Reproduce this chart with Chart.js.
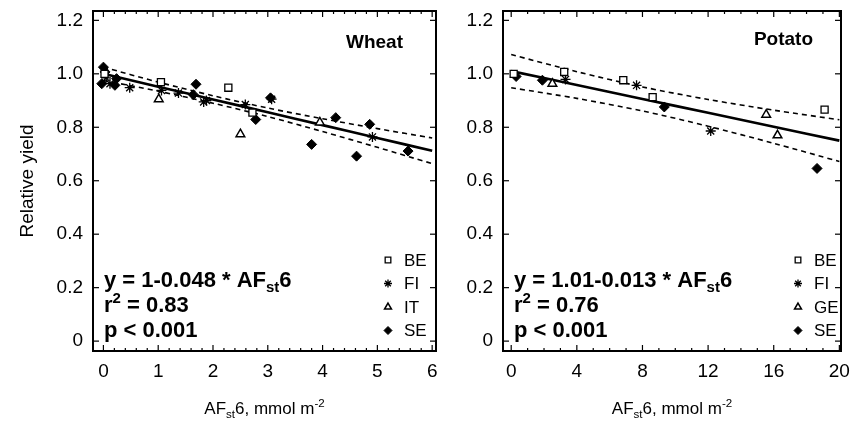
<!DOCTYPE html>
<html>
<head>
<meta charset="utf-8">
<script src="https://cdn.jsdelivr.net/npm/chart.js@4.4.0/dist/chart.umd.min.js"></script>
<style>
  html, body { margin: 0; padding: 0; background: #fff; }
  #wrap { position: relative; width: 850px; height: 421px; overflow: hidden; }
  #wheat { position: absolute; left: 0; top: 0; }
  #potato { position: absolute; left: 430px; top: 0; }
</style>
</head>
<body>
<div id="wrap">
  <canvas id="wheat" width="450" height="421"></canvas>
  <canvas id="potato" width="420" height="421"></canvas>
</div>
<script>
// ---- Wheat data (AFst6, relative yield) ----
const wheatBEx = [0.02, 1.05, 2.28, 2.72];
const wheatBEy = [1.0, 0.969, 0.948, 0.855];
const wheatFIx = [0.05, 0.12, 0.48, 1.06, 1.37, 1.83, 1.88, 2.59, 3.07, 4.91];
const wheatFIy = [0.985, 0.963, 0.948, 0.938, 0.928, 0.895, 0.9, 0.885, 0.905, 0.764];
const wheatITx = [1.01, 2.5, 3.95];
const wheatITy = [0.905, 0.774, 0.818];
const wheatSEx = [0.0, 0.03, -0.03, 0.24, 0.21, 1.69, 1.64, 2.78, 3.05, 3.8, 4.24, 4.86, 4.62, 5.56];
const wheatSEy = [1.025, 1.007, 0.963, 0.982, 0.957, 0.961, 0.922, 0.829, 0.91, 0.736, 0.836, 0.811, 0.692, 0.711];
// fitted line and 95% band
const wheatFitX = [0, 1, 2, 3, 4, 5, 6];
const wheatFit = [1.0, 0.952, 0.904, 0.856, 0.808, 0.76, 0.712];
const wheatUpper = [1.025, 0.969, 0.918, 0.872, 0.832, 0.795, 0.76];
const wheatLower = [0.975, 0.935, 0.89, 0.84, 0.784, 0.725, 0.664];

// ---- Potato data ----
const potatoBEx = [0.15, 3.23, 6.83, 8.62, 19.1];
const potatoBEy = [1.0, 1.007, 0.976, 0.913, 0.866];
const potatoFIx = [3.31, 7.64, 12.16];
const potatoFIy = [0.979, 0.957, 0.786];
const potatoGEx = [2.51, 15.54, 16.23];
const potatoGEy = [0.963, 0.847, 0.77];
const potatoSEx = [0.3, 1.9, 9.33, 18.64];
const potatoSEy = [0.99, 0.976, 0.876, 0.646];
const potatoFitX = [0, 4, 8, 12, 16, 20];
const potatoFit = [1.01, 0.958, 0.906, 0.854, 0.802, 0.75];
const potatoUpper = [1.072, 1.008, 0.951, 0.904, 0.864, 0.828];
const potatoLower = [0.948, 0.908, 0.861, 0.804, 0.74, 0.672];

// ---- axis ticks ----
const yTicks = [0, 0.2, 0.4, 0.6, 0.8, 1.0, 1.2];
const wheatXTicks = [0, 1, 2, 3, 4, 5, 6];
const potatoXTicks = [0, 4, 8, 12, 16, 20];

const FONT = '"Liberation Sans", Arial, Helvetica, sans-serif';

const styles = {
  BE: { pointStyle: "rect", radius: 5, bg: "#fff", bw: 1.3 },
  FI: { pointStyle: "star", radius: 5, bg: "#000", bw: 1.3 },
  IT: { pointStyle: "triangle", radius: 5, bg: "#fff", bw: 1.5 },
  GE: { pointStyle: "triangle", radius: 5, bg: "#fff", bw: 1.5 },
  SE: { pointStyle: "rectRot", radius: 5, bg: "#000", bw: 1 },
};

function pts(xs, ys) {
  return xs.map((x, i) => ({ x: x, y: ys[i] }));
}

function scatterSet(label, xs, ys) {
  const s = styles[label];
  return {
    type: "scatter",
    label: label,
    data: pts(xs, ys),
    pointStyle: s.pointStyle,
    pointRadius: s.radius,
    pointBackgroundColor: s.bg,
    pointBorderColor: "#000",
    pointBorderWidth: s.bw,
    order: 0,
  };
}

function lineSet(xs, ys, dashed) {
  return {
    type: "line",
    label: "",
    data: pts(xs, ys),
    borderColor: "#000",
    borderWidth: dashed ? 1.6 : 2.6,
    borderDash: dashed ? [5, 4] : [],
    pointRadius: 0,
    tension: 0.3,
    fill: false,
    order: 1,
  };
}

// draw text with sub/superscripts
function richText(ctx, parts, x, y, size, weight, align) {
  const font = (s) => `${weight} ${s}px ${FONT}`;
  let w = 0;
  parts.forEach((p) => {
    ctx.font = font(p.s ? size * 0.68 : size);
    w += ctx.measureText(p.t).width;
  });
  let cx = align === "center" ? x - w / 2 : align === "right" ? x - w : x;
  parts.forEach((p) => {
    ctx.font = font(p.s ? size * 0.68 : size);
    const dy = p.s === "sub" ? size * 0.22 : p.s === "sup" ? -size * 0.4 : 0;
    ctx.fillText(p.t, cx, y + dy);
    cx += ctx.measureText(p.t).width;
  });
}

// frame, inward ticks, labels and legend
const panelPlugin = {
  id: "panel",
  afterDraw(chart, args, o) {
    const { ctx, chartArea: a } = chart;
    const x = chart.scales.x, y = chart.scales.y;
    ctx.save();
    ctx.strokeStyle = "#000";
    ctx.fillStyle = "#000";
    ctx.lineWidth = 1.2;
    const tick = (x0, y0, dx, dy) => {
      ctx.beginPath();
      ctx.moveTo(x0, y0);
      ctx.lineTo(x0 + dx, y0 + dy);
      ctx.stroke();
    };
    for (let v = 0; v <= o.xMax + 1e-9; v += o.xMinor) {
      const px = x.getPixelForValue(v);
      const major = Math.abs(v / o.xMajor - Math.round(v / o.xMajor)) < 1e-6;
      const len = major ? 6 : 3;
      tick(px, a.bottom, 0, -len);
      tick(px, a.top, 0, len);
    }
    yTicks.forEach((v) => {
      const py = y.getPixelForValue(v);
      tick(a.left, py, 6, 0);
      tick(a.right, py, -6, 0);
    });
    ctx.lineWidth = 2;
    ctx.strokeRect(a.left, a.top, a.right - a.left, a.bottom - a.top);

    // crop label
    ctx.textBaseline = "alphabetic";
    ctx.textAlign = "left";
    richText(ctx, [{ t: o.crop }], o.cropX, o.cropY, 19, "bold", "right");

    // regression text
    const ex = a.left + 11;
    richText(ctx, o.eq, ex, 287, 22, "bold", "left");
    richText(ctx, [{ t: "r" }, { t: "2", s: "sup" }, { t: " = " + o.r2 }], ex, 312, 22, "bold", "left");
    richText(ctx, [{ t: "p < 0.001" }], ex, 337, 22, "bold", "left");

    // legend
    ctx.textBaseline = "middle";
    o.legend.forEach((lab, i) => {
      const s = styles[lab];
      const ly = 260 + i * 23.5;
      ctx.fillStyle = s.bg;
      ctx.strokeStyle = "#000";
      ctx.lineWidth = s.bw;
      Chart.helpers.drawPoint(ctx, { pointStyle: s.pointStyle, radius: 4, rotation: 0, borderWidth: s.bw }, o.legX, ly);
      ctx.fillStyle = "#000";
      ctx.font = `17px ${FONT}`;
      ctx.fillText(lab, o.legX + 16, ly + 1);
    });

    // x-axis title
    ctx.textBaseline = "alphabetic";
    richText(ctx, [{ t: "AF" }, { t: "st", s: "sub" }, { t: "6, mmol m" }, { t: "-2", s: "sup" }],
      (a.left + a.right) / 2, 414, 17, "normal", "center");

    // y-axis title
    if (o.yTitle) {
      ctx.translate(28, 181);
      ctx.rotate(-Math.PI / 2);
      ctx.textAlign = "center";
      ctx.textBaseline = "middle";
      ctx.font = `19px ${FONT}`;
      ctx.fillText(o.yTitle, 0, 0);
    }
    ctx.restore();
  },
};

function makePanel(id, cfg) {
  new Chart(document.getElementById(id).getContext("2d"), {
    type: "scatter",
    data: { datasets: cfg.datasets },
    plugins: [panelPlugin],
    options: {
      responsive: false,
      animation: false,
      layout: { padding: { left: 0, right: cfg.padRight, top: 11, bottom: 0 } },
      plugins: {
        legend: { display: false },
        tooltip: { enabled: false },
        panel: cfg.panel,
      },
      scales: {
        x: {
          type: "linear",
          min: cfg.xMin,
          max: cfg.xMax,
          grid: { display: false, drawTicks: false },
          border: { display: false },
          ticks: { color: "#000", font: { family: FONT, size: 19 }, padding: 9, maxRotation: 0 },
          afterBuildTicks: (s) => { s.ticks = cfg.xTicks.map((v) => ({ value: v })); },
          afterFit: (s) => { s.height = 70; s.paddingLeft = 0; s.paddingRight = 0; },
        },
        y: {
          type: "linear",
          min: -0.037,
          max: 1.235,
          grid: { display: false, drawTicks: false },
          border: { display: false },
          ticks: {
            color: "#000",
            font: { family: FONT, size: 19 },
            padding: 10,
            callback: (v) => (v === 0 ? "0" : v.toFixed(1)),
          },
          afterBuildTicks: (s) => { s.ticks = yTicks.map((v) => ({ value: v })); },
          afterFit: (s) => { s.width = cfg.yWidth; s.paddingTop = 0; s.paddingBottom = 0; },
        },
      },
    },
  });
}

makePanel("wheat", {
  padRight: 14,
  yWidth: 93,
  xMin: -0.19,
  xMax: 6.07,
  xTicks: wheatXTicks,
  datasets: [
    scatterSet("BE", wheatBEx, wheatBEy),
    scatterSet("FI", wheatFIx, wheatFIy),
    scatterSet("IT", wheatITx, wheatITy),
    scatterSet("SE", wheatSEx, wheatSEy),
    lineSet(wheatFitX, wheatFit, false),
    lineSet(wheatFitX, wheatUpper, true),
    lineSet(wheatFitX, wheatLower, true),
  ],
  panel: {
    xMax: 6, xMajor: 1, xMinor: 0.2,
    crop: "Wheat", cropX: 403, cropY: 48,
    eq: [{ t: "y = 1-0.048 * AF" }, { t: "st", s: "sub" }, { t: "6" }],
    r2: "0.83",
    legend: ["BE", "FI", "IT", "SE"], legX: 388,
    yTitle: "Relative yield",
  },
});

makePanel("potato", {
  padRight: 9,
  yWidth: 73,
  xMin: -0.5,
  xMax: 20.1,
  xTicks: potatoXTicks,
  datasets: [
    scatterSet("BE", potatoBEx, potatoBEy),
    scatterSet("FI", potatoFIx, potatoFIy),
    scatterSet("GE", potatoGEx, potatoGEy),
    scatterSet("SE", potatoSEx, potatoSEy),
    lineSet(potatoFitX, potatoFit, false),
    lineSet(potatoFitX, potatoUpper, true),
    lineSet(potatoFitX, potatoLower, true),
  ],
  panel: {
    xMax: 20, xMajor: 4, xMinor: 1,
    crop: "Potato", cropX: 383, cropY: 45,
    eq: [{ t: "y = 1.01-0.013 * AF" }, { t: "st", s: "sub" }, { t: "6" }],
    r2: "0.76",
    legend: ["BE", "FI", "GE", "SE"], legX: 368,
    yTitle: null,
  },
});
</script>
</body>
</html>
